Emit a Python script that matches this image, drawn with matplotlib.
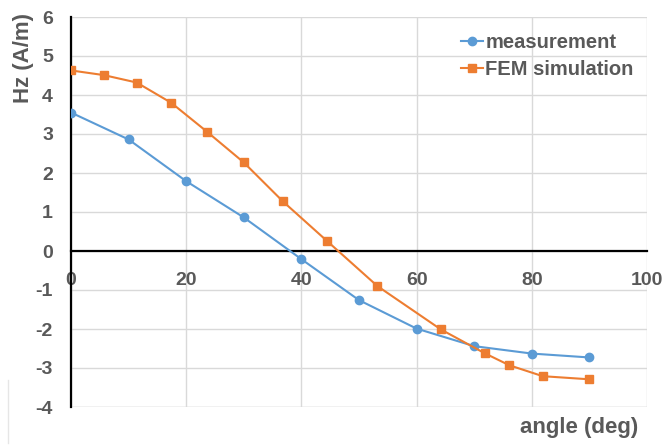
import matplotlib
matplotlib.use("Agg")
import matplotlib.pyplot as plt
from matplotlib.lines import Line2D

# ===============================
#  Data
# ===============================

meas_angle = [0, 10, 20, 30, 40, 50, 60, 70, 80, 90]
meas_hz = [3.55, 2.86, 1.79, 0.86, -0.21, -1.26, -1.99, -2.44, -2.63, -2.73]

fem_angle = [0, 5.7, 11.4, 17.4, 23.6, 30.0, 36.8, 44.5, 53.2, 64.2, 71.8, 76.1, 81.9, 90.0]
fem_hz = [4.63, 4.51, 4.32, 3.80, 3.06, 2.27, 1.27, 0.25, -0.90, -2.01, -2.62, -2.93, -3.21, -3.29]

x_ticks = [0, 20, 40, 60, 80, 100]
y_ticks = [-4, -3, -2, -1, 0, 1, 2, 3, 4, 5, 6]

BLUE = "#5B9BD5"
ORANGE = "#ED7D31"
TEXT = "#595959"
GRID = "#D9D9D9"

plt.rcParams["font.family"] = ["Liberation Sans", "DejaVu Sans"]
plt.rcParams["font.weight"] = "bold"
plt.rcParams["axes.unicode_minus"] = False

fig = plt.figure(figsize=(6.68, 4.46), dpi=100)
ax = fig.add_axes([71 / 668, 1 - 407 / 446, 576 / 668, 390 / 446])

ax.plot(meas_angle, meas_hz, color=BLUE, lw=1.5, marker="o", ms=6,
        label="measurement", zorder=3)
ax.plot(fem_angle, fem_hz, color=ORANGE, lw=1.5, marker="s", ms=6,
        label="FEM simulation", zorder=3)

ax.set_xlim(0, 100)
ax.set_ylim(-4, 6)
ax.set_xticks(x_ticks)
ax.set_yticks(y_ticks)
ax.grid(True, color=GRID, lw=1.0, zorder=0)

for side in ["top", "right"]:
    ax.spines[side].set_visible(False)
ax.spines["left"].set_color("black")
ax.spines["left"].set_linewidth(1.6)
ax.spines["bottom"].set_position(("data", 0))
ax.spines["bottom"].set_color("black")
ax.spines["bottom"].set_linewidth(1.6)
ax.spines["left"].set_zorder(2)
ax.spines["bottom"].set_zorder(2)

# grid box edge at the bottom
ax.axhline(-4, color=GRID, lw=1.0, zorder=0)

ax.tick_params(axis="both", length=0, labelsize=14, labelcolor=TEXT)
ax.tick_params(axis="x", pad=15)
ax.tick_params(axis="y", pad=13)
for lbl in ax.get_xticklabels() + ax.get_yticklabels():
    lbl.set_fontweight("bold")

leg = ax.legend(loc="upper right", bbox_to_anchor=(0.998, 0.99), frameon=False,
                fontsize=14.5, handlelength=1.1, handletextpad=0.12,
                labelspacing=0.4, borderaxespad=0.2)
for t in leg.get_texts():
    t.set_color(TEXT)
    t.set_fontweight("bold")

fig.text(23 / 668, 1 - 13 / 446, "Hz (A/m)", rotation=90, ha="center", va="top",
         fontsize=16, fontweight="bold", color=TEXT)
fig.text(638 / 668, 1 - 428 / 446, "angle (deg)", ha="right", va="center",
         fontsize=16, fontweight="bold", color=TEXT)

# faint outer border at the left edge of the picture
fig.add_artist(Line2D([8 / 668, 8 / 668], [3 / 446, 66 / 446],
                      transform=fig.transFigure, color="#E6E6E6", lw=1))

fig.savefig("out.png", dpi=100, facecolor="white")
